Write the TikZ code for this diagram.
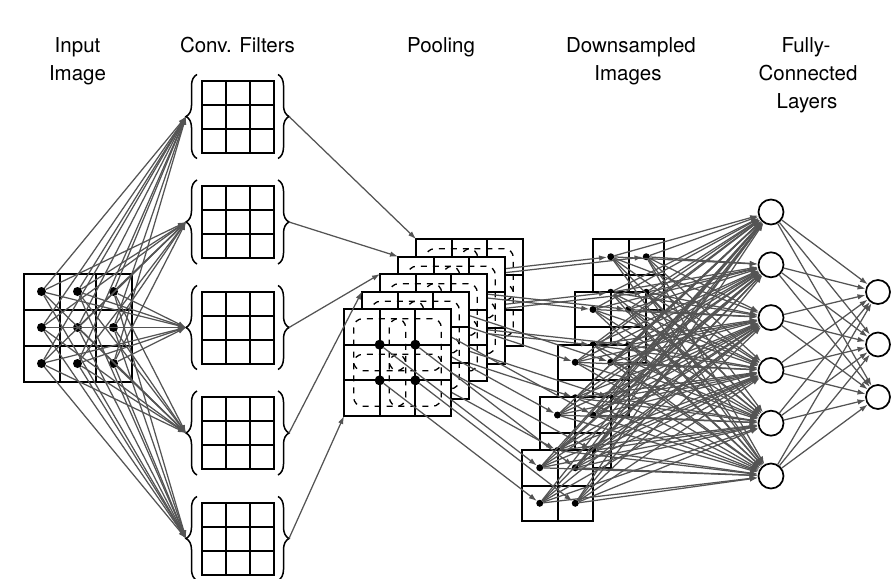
\documentclass[tikz,border=0pt]{standalone}
\usepackage{fontspec}
\setmainfont{TeX Gyre Heros}
\usetikzlibrary{arrows.meta,decorations.pathreplacing}
\definecolor{arrgray}{gray}{0.33}
\tikzset{
  lbl/.style={anchor=base,inner sep=0pt,font=\fontsize{20.5}{28}\selectfont},
  gridl/.style={draw=black,line width=2pt},
  dotin/.style={circle,fill=black,inner sep=0pt,minimum size=9pt},
  pdot/.style={circle,fill=black,inner sep=0pt,minimum size=10pt},
  ddot/.style={circle,fill=black,inner sep=0pt,minimum size=7pt},
  poolwin/.style={draw=black,line width=1.3pt,rounded corners=9pt,dash pattern=on 6pt off 6pt},
  brc/.style={draw=black,decorate,decoration={brace,amplitude=11pt},line width=1.5pt},
  fcnode/.style={circle,draw=black,line width=1.7pt,minimum size=25pt,inner sep=0pt,fill=white},
  arr/.style={draw=arrgray,line width=1.25pt,-{Latex[length=8pt,width=5.5pt]}}
}
\begin{document}
\begin{tikzpicture}[x=1pt,y=-1pt]
\useasboundingbox (0,0) rectangle (893,578);
% labels
\node[lbl] (t1a) at (77.5,52.5) {Input};
\node[lbl] (t1b) at (77.5,80.5) {Image};
\node[lbl] (t2) at (237.5,52.5) {Conv. Filters};
\node[lbl] (t3) at (441,52.5) {Pooling};
\node[lbl] (t4a) at (631,52.5) {Downsampled};
\node[lbl] (t4b) at (628,80.5) {Images};
\node[lbl] (t5a) at (806,52.5) {Fully-};
\node[lbl] (t5b) at (808,80.5) {Connected};
\node[lbl] (t5c) at (807,108.5) {Layers};
% input image
\draw[gridl] (23.5,273.5) rectangle (131.5,381.5);
\foreach \i in {1,2}{
  \draw[gridl] (23.5+36*\i,273.5) -- ++(0,108);
  \draw[gridl] (23.5,273.5+36*\i) -- ++(108,0);
}
\foreach \i in {0,1,2}
  \foreach \j in {0,1,2}
    \node[dotin] (in-\i-\j) at (41.5+36*\i,291.5+36*\j) {};
% filters
\foreach \k in {1,...,5}{
  \pgfmathsetmacro{\cY}{116.5+105.5*(\k-1)}
  \draw[gridl] (202,\cY-36) rectangle ++(72,72);
  \foreach \i in {1,2}{
    \draw[gridl] (202+24*\i,\cY-36) -- ++(0,72);
    \draw[gridl] (202,\cY-36+24*\i) -- ++(72,0);
  }
  \draw[brc] (197,\cY+42) -- (197,\cY-42);
  \draw[brc] (278,\cY-42) -- (278,\cY+42);
  \coordinate (fL-\k) at (186,\cY);
  \coordinate (fR-\k) at (289,\cY);
}
% input -> filters
\foreach \k in {1,...,5}
  \foreach \i in {0,1,2}
    \foreach \j in {0,1,2}
      \draw[arr] (in-\i-\j) -- (fL-\k);
% fully connected nodes
\foreach \m in {1,...,6}
  \node[fcnode] (h\m) at (771,{212+52.8*(\m-1)}) {};
\foreach \n in {1,2,3}
  \node[fcnode,minimum size=24pt] (o\n) at (878,{292+52.5*(\n-1)}) {};
% downsampled images
\foreach \k in {5,4,3,2,1}{
  \pgfmathsetmacro{\dX}{522+17.75*(\k-1)}
  \pgfmathsetmacro{\dY}{450-52.75*(\k-1)}
  \draw[gridl,fill=white] (\dX,\dY) rectangle ++(71,71);
  \draw[gridl] (\dX+35.5,\dY) -- ++(0,71);
  \draw[gridl] (\dX,\dY+35.5) -- ++(71,0);
  \foreach \i in {0,1}
    \foreach \j in {0,1}
      \node[ddot] (d-\k-\i-\j) at (\dX+17.75+35.5*\i,\dY+17.75+35.5*\j) {};
}
% pooling layers
\foreach \k in {5,4,3,2,1}{
  \pgfmathsetmacro{\pX}{344+18*(\k-1)}
  \pgfmathsetmacro{\pY}{309-17.5*(\k-1)}
  \draw[gridl,fill=white] (\pX,\pY) rectangle ++(107,107);
  \foreach \i in {1,2}{
    \draw[gridl] (\pX+35.67*\i,\pY) -- ++(0,107);
    \draw[gridl] (\pX,\pY+35.67*\i) -- ++(107,0);
  }
  \foreach \i in {1,2}
    \foreach \j in {1,2}
      \draw[poolwin] (\pX+35.67*\i-26,\pY+35.67*\j-26) rectangle ++(52,52);
  \foreach \i in {1,2}
    \foreach \j in {1,2}
      \node[pdot] (p-\k-\i-\j) at (\pX+35.67*\i,\pY+35.67*\j) {};
  \coordinate (pTL-\k) at (\pX,\pY);
  \coordinate (pBL-\k) at (\pX,\pY+107);
  \foreach \i in {1,2}
    \foreach \j in {1,2}{
      \pgfmathtruncatemacro{\aI}{\i-1}
      \pgfmathtruncatemacro{\bJ}{\j-1}
      \draw[arr] (p-\k-\i-\j) -- (d-\k-\aI-\bJ);
    }
}
% filters -> pooling
\draw[arr] (fR-1) -- (pTL-5);
\draw[arr] (fR-2) -- (pTL-4);
\draw[arr] (fR-3) -- (pTL-3);
\draw[arr] (fR-4) -- (pTL-2);
\draw[arr] (fR-5) -- (pBL-1);
% downsampled -> hidden
\foreach \k in {1,...,5}
  \foreach \i in {0,1}
    \foreach \j in {0,1}
      \foreach \m in {1,...,6}
        \draw[arr] (d-\k-\i-\j) -- (h\m);
% hidden -> output
\foreach \m in {1,...,6}
  \foreach \n in {1,2,3}
    \draw[arr] (h\m) -- (o\n);
\end{tikzpicture}
\end{document}
